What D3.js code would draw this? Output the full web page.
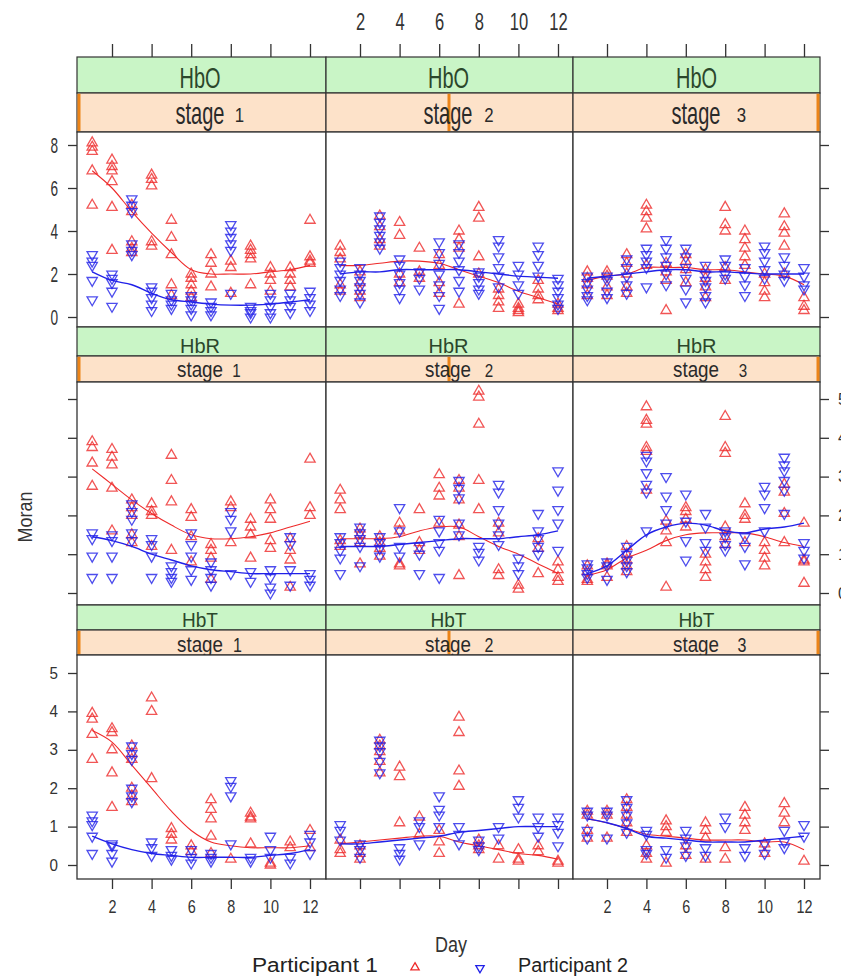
<!DOCTYPE html>
<html>
<head>
<meta charset="utf-8">
<script src="https://cdn.jsdelivr.net/npm/d3@7"></script>
<style>
body{margin:0;background:#fff}
text{font-family:"Liberation Sans",Arial,sans-serif}
</style>
</head>
<body>
<script>
// days on the x axis, one list of Moran values per day
const days = [1,2,3,4,5,6,7,8,9,10,11,12];
const measures = ["HbO","HbR","HbT"];
const stages = [1,2,3];
const xTicks = [2,4,6,8,10,12];
const participants = ["Participant 1","Participant 2"];

// HbO
const hboS1P1 = [[8.1,7.9,7.7,6.8,5.2],[7.3,7.0,6.8,6.3,5.1,3.1],[5.2,4.9,3.5,3.2,3.0],[6.6,6.4,6.1,3.5,3.3],[4.5,3.7,2.9,1.5,1.0],[2.0,1.8,1.5,1.2,0.9],[2.9,2.5,2.0,1.4],[2.6,2.3,1.1],[3.3,3.1,2.9,2.7,1.5],[2.3,2.0,1.7,1.2],[2.3,2.0,1.7,1.4],[4.5,2.8,2.6,2.5]];
const hboS1P2 = [[2.9,2.6,2.4,1.7,0.8],[2.0,1.8,1.6,1.2,0.5],[5.5,5.2,4.9,3.4,3.1,2.9],[1.4,1.2,0.9,0.6,0.3],[1.1,0.8,0.6,0.4],[1.0,0.8,0.6,0.4,0.1],[0.7,0.5,0.3,0.1],[4.3,4.0,3.7,3.4,3.1,1.1],[0.5,0.3,0.2,0.0],[1.1,0.8,0.5,0.2,0.0],[1.1,0.8,0.5,0.2],[1.2,0.9,0.6,0.3]];
const hboS1Fit1 = [6.8,6.0,4.9,3.9,3.0,2.2,2.0,2.0,2.0,2.1,2.2,2.4];
const hboS1Fit2 = [2.1,1.7,1.5,1.1,0.8,0.7,0.6,0.55,0.55,0.6,0.7,0.8];

const hboS2P1 = [[3.3,3.0,2.7,1.5,1.2],[2.1,1.6,1.2,0.9],[4.7,4.2,3.6,3.3],[4.4,3.8,2.0,1.6],[3.2,2.1,1.8],[2.9,2.4,1.6,1.1],[4.0,3.6,3.2,0.6],[5.1,4.6,2.8,2.0],[1.3,1.0,0.7,0.4],[0.6,0.4,0.3,0.2],[1.7,1.3,1.0,0.8],[0.6,0.4,0.3]];
const hboS2P2 = [[2.6,2.3,2.0,1.7,1.3,1.0],[2.3,2.0,1.7,1.4,1.1,0.7],[4.7,4.4,4.1,3.8,3.5,3.2],[2.7,2.4,2.0,1.6,1.3,0.9],[2.1,1.8,1.3],[3.5,3.0,2.5,2.0,1.5,1.0,0.4],[3.4,3.0,2.6,2.2,1.7,1.2],[2.1,1.9,1.6,1.3,1.1],[3.6,3.3,2.8,2.3,1.9,1.4],[2.4,2.0,1.5,1.1],[3.3,2.9,2.4,1.9],[1.8,1.5,1.2,0.9,0.6,0.4]];
const hboS2Fit1 = [2.4,2.4,2.5,2.6,2.6,2.5,2.2,1.9,1.6,1.2,0.9,0.6];
const hboS2Fit2 = [2.0,2.1,2.1,2.2,2.2,2.2,2.2,2.1,2.0,1.9,1.85,1.8];

const hboS3P1 = [[2.1,1.8,1.5,1.0],[2.1,1.9,1.4,1.0],[2.9,2.5,2.0,1.4,1.1],[5.2,4.9,4.6,4.1,2.4],[2.5,2.1,1.7,0.3],[2.9,2.6,2.2,1.6],[2.2,1.8,1.4,0.9],[5.1,4.3,4.0,2.3,1.7],[4.0,3.6,3.2,2.8,2.4],[2.0,1.6,1.2,0.9],[4.8,4.2,3.9,3.3,2.0],[0.9,0.5,0.3]];
const hboS3P2 = [[1.9,1.6,1.3,1.0,0.8],[1.9,1.7,1.2,0.9],[2.7,2.3,1.9,1.5,1.1],[3.2,2.9,2.6,2.3,1.4],[3.6,3.2,2.8,2.4,2.0,1.5],[3.2,2.8,2.3,1.8,1.3,0.7],[2.4,2.0,1.7,1.4,1.0,0.7],[2.7,2.4,2.0,1.8],[2.3,1.9,1.5,1.0],[3.3,3.0,2.6,2.2,1.8],[2.8,2.4,2.0,1.7],[2.3,1.9,1.5,1.3]];
const hboS3Fit1 = [1.7,1.9,2.0,2.3,2.3,2.3,2.2,2.2,2.1,2.0,1.9,1.5];
const hboS3Fit2 = [1.8,1.9,2.0,2.1,2.2,2.2,2.1,2.1,2.05,2.0,2.0,2.0];

// HbR
const hbrS1P1 = [[3.9,3.75,3.35,2.75],[3.7,3.5,3.3,2.7,1.6],[2.4,2.2,2.0,1.5,1.3],[2.3,2.1,2.0,1.2],[3.55,2.9,2.35,1.1],[2.15,1.95,1.45,0.8],[1.25,1.1,0.9,0.35],[2.35,2.2,1.3],[1.9,1.7,1.5,0.9],[2.4,2.15,1.9,1.35,1.15],[1.4,1.1,0.85,0.15],[3.45,2.2,2.0]];
const hbrS1P2 = [[1.55,1.4,0.95,0.4],[1.5,1.35,0.95,0.4],[2.3,2.1,1.9,1.55,1.35],[1.4,1.25,0.95,0.4],[0.7,0.55,0.4,0.3],[1.55,1.25,0.95,0.6,0.35],[0.8,0.6,0.4,0.2],[2.1,1.9,1.6,0.5],[0.55,0.3],[0.6,0.4,0.15,0.0],[1.45,1.25,0.6,0.2],[0.5,0.35,0.2]];
const hbrS1Fit1 = [3.2,2.8,2.4,2.05,1.75,1.5,1.4,1.4,1.45,1.55,1.7,1.85];
const hbrS1Fit2 = [1.45,1.35,1.2,1.0,0.85,0.7,0.6,0.55,0.5,0.5,0.5,0.5];

const hbrS2P1 = [[2.65,2.4,2.15,1.35,1.2],[1.65,1.5,1.3,0.75],[1.45,1.3,1.15,0.95],[1.8,1.6,0.75,0.7],[2.15,1.3,1.1],[3.05,2.7,2.5,1.8],[2.9,2.7,2.4,1.75,1.45,0.45],[5.2,5.05,4.35,2.9,2.15],[1.8,1.55,0.6,0.45],[0.2,0.1],[1.4,1.15,0.5],[0.8,0.6,0.4,0.3]];
const hbrS2P2 = [[1.45,1.3,1.1,0.9,0.5],[1.7,1.55,1.4,1.2,0.7],[1.45,1.3,1.15,0.95],[2.2,1.6,1.2,0.95],[1.2,1.0,0.5],[1.9,1.6,1.3,1.1,0.4],[2.9,2.7,2.45,1.8,1.5],[1.2,1.05,0.85],[2.8,2.6,2.15,1.8,1.5,1.25],[0.9,0.7,0.5],[2.05,1.6,1.4,1.2,1.0],[3.15,2.65,2.15,1.8,1.1]];
const hbrS2Fit1 = [1.4,1.4,1.4,1.45,1.6,1.7,1.7,1.45,1.2,1.0,0.75,0.5];
const hbrS2Fit2 = [1.2,1.2,1.2,1.25,1.3,1.35,1.4,1.4,1.4,1.45,1.5,1.6];

const hbrS3P1 = [[0.7,0.55,0.35,0.3],[0.75,0.7,0.4],[1.2,1.0,0.85,0.7,0.55],[4.8,4.45,4.35,3.75,3.65,2.65],[1.85,1.6,1.3,0.15],[2.2,2.1,1.9,1.7],[1.0,0.8,0.6,0.4],[4.55,3.75,3.6,1.7,1.45,1.25],[2.3,2.0,1.9,1.3],[1.3,1.1,0.9,0.7],[2.8,2.6,2.05,1.3],[1.8,0.85,0.8,0.25]];
const hbrS3P2 = [[0.75,0.65,0.5,0.4],[0.8,0.7,0.35],[1.2,1.0,0.85,0.7,0.55],[3.55,3.4,3.1,2.8,2.6,1.6],[3.0,2.5,2.15,1.8],[2.55,1.85,1.35,0.85],[2.05,1.7,1.3,1.1],[1.6,1.45,1.25,1.1],[1.45,1.2,0.75],[2.75,2.55,2.2,1.6],[3.5,3.3,3.15,2.9,2.65,2.05],[1.3,1.1,0.9]];
const hbrS3Fit1 = [0.45,0.6,0.9,1.1,1.35,1.5,1.55,1.55,1.55,1.45,1.3,1.2];
const hbrS3Fit2 = [0.5,0.7,1.1,1.5,1.7,1.8,1.75,1.6,1.55,1.65,1.7,1.8];

// HbT
const hbtS1P1 = [[3.95,3.8,3.4,2.75],[3.55,3.45,3.0,2.4,1.5],[3.1,2.9,2.75,2.0,1.8,1.65],[4.35,4.0,2.25],[0.95,0.8,0.65],[0.5,0.35],[1.7,1.45,1.2,0.75,0.3],[0.15],[1.35,1.25,1.2,0.55],[0.05,0.0],[0.6,0.45],[0.9,0.45]];
const hbtS1P2 = [[1.3,1.15,1.05,0.75,0.3],[0.55,0.5,0.3,0.1],[3.1,2.9,2.75,2.0,1.8,1.65],[0.6,0.45,0.25],[0.4,0.25,0.15],[0.4,0.2,0.05],[0.3,0.2,0.1],[2.2,2.05,1.8,0.55],[0.2,0.1],[0.75,0.4,0.2],[0.2,0.05],[0.8,0.6,0.3]];
const hbtS1Fit1 = [3.5,3.2,2.6,2.0,1.4,0.9,0.6,0.5,0.45,0.45,0.45,0.5];
const hbtS1Fit2 = [0.75,0.55,0.4,0.3,0.25,0.2,0.2,0.2,0.2,0.25,0.3,0.4];

const hbtS2P1 = [[0.65,0.4,0.3],[0.5,0.3,0.15],[3.25,3.1,2.95,2.7,2.4],[2.55,2.3,1.1],[1.25,0.8],[0.9,0.6,0.3],[3.85,3.45,2.45,2.05],[0.65,0.5,0.4],[0.5,0.15],[0.4,0.15,0.1],[0.5,0.35],[0.1,0.05]];
const hbtS2P2 = [[1.05,0.9,0.65],[0.55,0.4,0.2],[3.25,3.1,2.95,2.7,2.4],[0.45,0.3,0.15],[1.15,1.0,0.55],[1.8,1.45,1.3,1.0],[1.0,0.8,0.55],[0.65,0.5,0.4],[1.0,0.7],[1.7,1.5,1.25],[1.25,1.0,0.75],[1.25,1.05,0.85,0.5]];
const hbtS2Fit1 = [0.55,0.6,0.65,0.7,0.75,0.75,0.6,0.5,0.4,0.3,0.25,0.15];
const hbtS2Fit2 = [0.55,0.55,0.6,0.65,0.7,0.75,0.85,0.9,0.95,1.0,1.0,1.0];

const hbtS3P1 = [[1.4,1.3,0.9,0.7],[1.4,1.3,0.7],[1.7,1.5,1.3,1.1,0.85],[0.5,0.3,0.15],[1.15,1.0,0.85,0.05],[0.5,0.25],[1.1,0.9,0.7,0.15],[0.45,0.15],[1.5,1.3,1.1,0.9],[0.55,0.3],[1.6,1.35,1.1],[0.1]];
const hbtS3P2 = [[1.4,1.3,0.9,0.7],[1.4,1.3,0.7],[1.7,1.5,1.3,1.1,0.85],[0.9,0.8,0.4,0.3],[0.4,0.2],[0.9,0.7,0.5,0.25],[0.45,0.25],[1.25,1.0],[0.45,0.25],[0.55,0.3],[0.9,0.6,0.45],[1.05,0.75]];
const hbtS3Fit1 = [1.2,1.1,0.95,0.8,0.75,0.7,0.65,0.65,0.65,0.6,0.6,0.4];
const hbtS3Fit2 = [1.2,1.1,0.95,0.75,0.7,0.65,0.6,0.6,0.6,0.65,0.7,0.75];

const series = {
	HbO: [[hboS1P1,hboS1P2,hboS1Fit1,hboS1Fit2],[hboS2P1,hboS2P2,hboS2Fit1,hboS2Fit2],[hboS3P1,hboS3P2,hboS3Fit1,hboS3Fit2]],
	HbR: [[hbrS1P1,hbrS1P2,hbrS1Fit1,hbrS1Fit2],[hbrS2P1,hbrS2P2,hbrS2Fit1,hbrS2Fit2],[hbrS3P1,hbrS3P2,hbrS3Fit1,hbrS3Fit2]],
	HbT: [[hbtS1P1,hbtS1P2,hbtS1Fit1,hbtS1Fit2],[hbtS2P1,hbtS2P2,hbtS2Fit1,hbtS2Fit2],[hbtS3P1,hbtS3P2,hbtS3Fit1,hbtS3Fit2]]
};

// layout (pixels)
const width = 841, height = 977;
const cols = [
	{x0:77, x1:326, r:[112,310]},
	{x0:326, x1:573, r:[360,558]},
	{x0:573, x1:820, r:[607,804]}
];
const rows = [
	{green:[57,93], orange:[93,132], panel:[132,327], ymax:8, yr:[317,145], ticks:[0,2,4,6,8], labels:"left", fs:22, sx:0.62,
	 mFont:30, mBase:88, mW:41, sFont:32, sBase:124, sW:49, nFont:21, nBase:122, nx:[239.5,489,741.5]},
	{green:[327,356], orange:[356,382], panel:[382,605], ymax:5, yr:[593,399], ticks:[0,1,2,3,4,5], labels:"right", fs:16, sx:0.95,
	 mFont:20, mBase:352.5, mW:40, sFont:22, sBase:377, sW:46, nFont:19, nBase:377, nx:[236.5,489,743]},
	{green:[605,630], orange:[630,655], panel:[655,879], ymax:5, yr:[865,673], ticks:[0,1,2,3,4,5], labels:"left", fs:16, sx:0.95,
	 mFont:20, mBase:627, mW:36, sFont:22, sBase:652, sW:46, nFont:20, nBase:652, nx:[237.5,489,742]}
];
const mx = [200,448.5,696.5];
const sxs = [200,448,696];

const red = "#ee2a2a", blue = "#2020e8", ink = "#333";

var svg = d3.select("body").append("svg")
	.attr("width", width)
	.attr("height", height);
svg.append("rect").attr("width", width).attr("height", height).attr("fill", "#fff");

// squeeze a text horizontally so it covers w pixels, centred or left-aligned at (x,y)
function fit(t, x, y, w, extra){
	var n = t.node().getComputedTextLength();
	t.attr("x", 0).attr("y", 0)
		.attr("transform", "translate(" + x + "," + y + ")" + (extra || "") + " scale(" + (w / n) + ",1)");
	return t;
}

var up = d3.symbol().type(d3.symbolTriangle).size(46);

rows.forEach(function(row, ri){
	var yScale = d3.scaleLinear().domain([0, row.ymax]).range(row.yr);

	cols.forEach(function(col, ci){
		var xScale = d3.scaleLinear().domain([2,12]).range(col.r);
		var g = svg.append("g");
		var cx = (col.x0 + col.x1) / 2;

		// strips
		g.append("rect").attr("x", col.x0).attr("y", row.green[0]).attr("width", col.x1 - col.x0)
			.attr("height", row.green[1] - row.green[0]).attr("fill", "#c9f5c6").attr("stroke", ink).attr("stroke-width", 1.2);
		g.append("rect").attr("x", col.x0).attr("y", row.orange[0]).attr("width", col.x1 - col.x0)
			.attr("height", row.orange[1] - row.orange[0]).attr("fill", "#fde2c9").attr("stroke", ink).attr("stroke-width", 1.2);
		var barX = ci === 0 ? col.x0 + 0.5 : (ci === 1 ? cx - 2 : col.x1 - 3.5);
		g.append("rect").attr("x", barX).attr("y", row.orange[0] + 0.8).attr("width", 3)
			.attr("height", row.orange[1] - row.orange[0] - 1.6).attr("fill", "#ec8418");

		fit(g.append("text").text(measures[ri]).attr("text-anchor", "middle")
			.attr("font-size", row.mFont).attr("fill", "#2b472b"), mx[ci], row.mBase, row.mW);
		fit(g.append("text").text("stage").attr("text-anchor", "middle")
			.attr("font-size", row.sFont).attr("fill", "#2a2a2a"), sxs[ci], row.sBase, row.sW);
		g.append("text").text(stages[ci])
			.attr("transform", "translate(" + row.nx[ci] + "," + row.nBase + ") scale(0.8,1)")
			.attr("text-anchor", "middle").attr("font-size", row.nFont).attr("fill", "#2a2a2a");

		// panel
		g.append("rect").attr("x", col.x0).attr("y", row.panel[0]).attr("width", col.x1 - col.x0)
			.attr("height", row.panel[1] - row.panel[0]).attr("fill", "#fff");

		var s = series[measures[ri]][ci];
		var line = d3.line()
			.x(function(d, i){ return xScale(days[i]); })
			.y(function(d){ return yScale(d); })
			.curve(d3.curveCatmullRom.alpha(0.5));

		[0,1].forEach(function(p){
			var color = p === 0 ? red : blue;
			var pts = [];
			s[p].forEach(function(vals, di){
				vals.forEach(function(v){ pts.push([days[di], v]); });
			});
			g.append("g").selectAll("path").data(pts).enter().append("path")
				.attr("d", up)
				.attr("transform", function(d){
					return "translate(" + xScale(d[0]) + "," + yScale(d[1]) + ")" + (p === 1 ? " rotate(180)" : "");
				})
				.attr("fill", "none").attr("stroke", color).attr("stroke-width", 1.3).attr("stroke-opacity", 0.8);
			g.append("path").datum(s[p + 2]).attr("d", line)
				.attr("fill", "none").attr("stroke", color).attr("stroke-width", p === 0 ? 1.1 : 1.4);
		});

		g.append("rect").attr("x", col.x0).attr("y", row.panel[0]).attr("width", col.x1 - col.x0)
			.attr("height", row.panel[1] - row.panel[0]).attr("fill", "none").attr("stroke", ink).attr("stroke-width", 1.3);

		// top axis
		if (ri === 0) {
			var gt = svg.append("g").attr("transform", "translate(0," + row.green[0] + ")").attr("color", ink)
				.call(d3.axisTop(xScale).tickValues(xTicks).tickSize(13).tickFormat(ci === 1 ? d3.format("d") : ""));
			gt.select(".domain").remove();
			gt.selectAll("line").attr("stroke-width", 1.3);
			gt.selectAll("text").attr("y", -27).attr("dy", 0).attr("transform", "scale(0.72,1)")
				.style("font-size", "23px").style("font-family", "Liberation Sans, Arial, sans-serif");
		}
		// bottom axis
		if (ri === 2) {
			var gb = svg.append("g").attr("transform", "translate(0," + row.panel[1] + ")").attr("color", ink)
				.call(d3.axisBottom(xScale).tickValues(xTicks).tickSize(10).tickFormat(ci !== 1 ? d3.format("d") : ""));
			gb.select(".domain").remove();
			gb.selectAll("line").attr("stroke-width", 1.3);
			gb.selectAll("text").attr("y", 34).attr("dy", 0).attr("transform", "scale(0.8,1)")
				.style("font-size", "18px").style("font-family", "Liberation Sans, Arial, sans-serif");
		}
	});

	// y axes, left and right
	var gl = svg.append("g").attr("transform", "translate(" + cols[0].x0 + ",0)").attr("color", ink)
		.call(d3.axisLeft(yScale).tickValues(row.ticks).tickSize(9).tickFormat(row.labels === "left" ? d3.format("d") : ""));
	gl.select(".domain").remove();
	gl.selectAll("line").attr("stroke-width", 1.3);
	gl.selectAll("text").attr("x", -19 / row.sx).attr("transform", "scale(" + row.sx + ",1)")
		.style("font-size", row.fs + "px").style("font-family", "Liberation Sans, Arial, sans-serif");

	var gr = svg.append("g").attr("transform", "translate(" + cols[2].x1 + ",0)").attr("color", ink)
		.call(d3.axisRight(yScale).tickValues(row.ticks).tickSize(9).tickFormat(row.labels === "right" ? d3.format("d") : ""));
	gr.select(".domain").remove();
	gr.selectAll("line").attr("stroke-width", 1.3);
	gr.selectAll("text").attr("x", 18)
		.style("font-size", row.fs + "px").style("font-family", "Liberation Sans, Arial, sans-serif");
});

// axis titles
fit(svg.append("text").text("Moran").attr("text-anchor", "middle").attr("font-size", 20).attr("fill", ink),
	32, 517, 51, " rotate(-90)");
fit(svg.append("text").text("Day").attr("text-anchor", "middle").attr("font-size", 22).attr("fill", ink),
	451, 952, 32);

// legend
var legend = svg.append("g");
fit(legend.append("text").text(participants[0]).attr("font-size", 21).attr("fill", "#222"), 252, 972, 126);
fit(legend.append("text").text(participants[1]).attr("font-size", 21).attr("fill", "#222"), 518, 972, 110);
var small = d3.symbol().type(d3.symbolTriangle).size(30);
legend.append("path").attr("d", small).attr("transform", "translate(415,967.5)")
	.attr("fill", "none").attr("stroke", red).attr("stroke-width", 1.3);
legend.append("path").attr("d", small).attr("transform", "translate(480,968) rotate(180)")
	.attr("fill", "none").attr("stroke", blue).attr("stroke-width", 1.3);
</script>
</body>
</html>
